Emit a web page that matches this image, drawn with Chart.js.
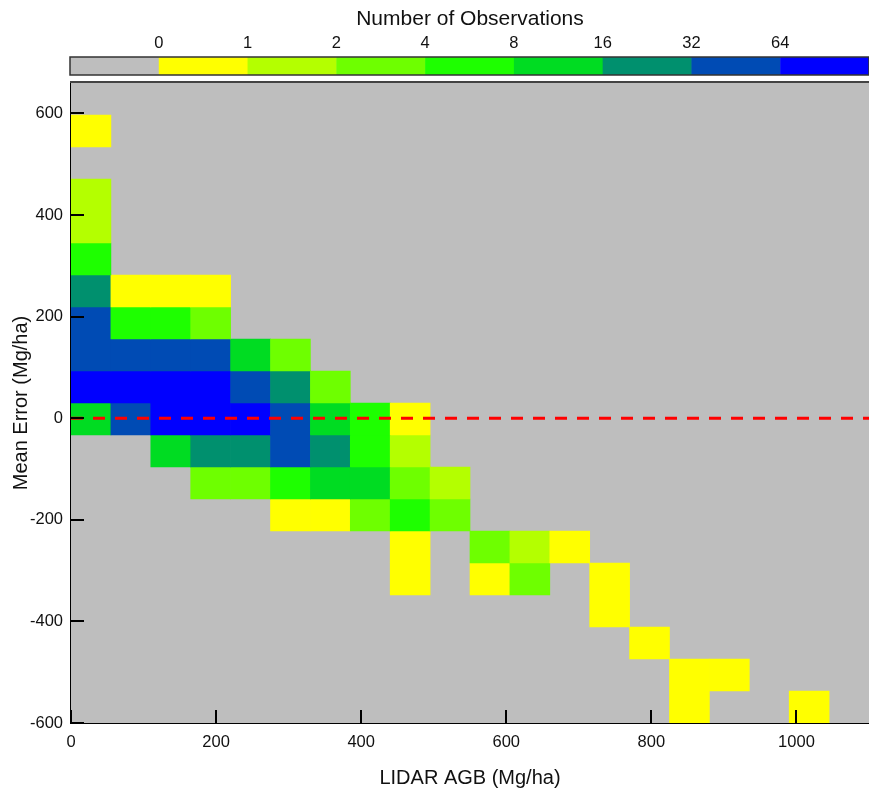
<!DOCTYPE html>
<html>
<head>
<meta charset="utf-8">
<script src="https://cdn.jsdelivr.net/npm/chart.js@4/dist/chart.umd.min.js"></script>
<style>
  body { margin: 0; background: #fff; }
  #wrap { width: 869px; height: 792px; position: relative; }
</style>
</head>
<body>
<div id="wrap"><canvas id="heat"></canvas></div>
<script>
// bins: LIDAR AGB on x, mean error on y
var xBinStart = 0, xBinWidth = 55;
var yBinStart = -600, yBinHeight = 63;

var xTickValues = [0, 200, 400, 600, 800, 1000];
var yTickValues = [-600, -400, -200, 0, 200, 400, 600];

// colour scale breaks (number of observations) and the class colours
var legendBreaks = [0, 1, 2, 4, 8, 16, 32, 64];
var classColors = ['#bebebe', '#ffff00', '#b4ff00', '#6eff00', '#1eff00', '#00dc22', '#00906e', '#004bb4', '#0000ff'];

// counts per cell, top row (597..660) first, columns 0..1100 in steps of 55
var counts = [
  [0,0,0,0,0,0,0,0,0,0,0,0,0,0,0,0,0,0,0,0],
  [1,0,0,0,0,0,0,0,0,0,0,0,0,0,0,0,0,0,0,0],
  [0,0,0,0,0,0,0,0,0,0,0,0,0,0,0,0,0,0,0,0],
  [2,0,0,0,0,0,0,0,0,0,0,0,0,0,0,0,0,0,0,0],
  [2,0,0,0,0,0,0,0,0,0,0,0,0,0,0,0,0,0,0,0],
  [6,0,0,0,0,0,0,0,0,0,0,0,0,0,0,0,0,0,0,0],
  [21,1,1,1,0,0,0,0,0,0,0,0,0,0,0,0,0,0,0,0],
  [47,6,5,3,0,0,0,0,0,0,0,0,0,0,0,0,0,0,0,0],
  [58,61,52,40,11,4,0,0,0,0,0,0,0,0,0,0,0,0,0,0],
  [83,112,97,74,35,19,3,0,0,0,0,0,0,0,0,0,0,0,0,0],
  [14,38,89,121,70,44,10,6,1,0,0,0,0,0,0,0,0,0,0,0],
  [0,0,13,27,22,36,18,7,2,0,0,0,0,0,0,0,0,0,0,0],
  [0,0,0,4,3,8,15,12,4,2,0,0,0,0,0,0,0,0,0,0],
  [0,0,0,0,0,1,1,4,6,3,0,0,0,0,0,0,0,0,0,0],
  [0,0,0,0,0,0,0,0,1,0,3,2,1,0,0,0,0,0,0,0],
  [0,0,0,0,0,0,0,0,1,0,1,3,0,1,0,0,0,0,0,0],
  [0,0,0,0,0,0,0,0,0,0,0,0,0,1,0,0,0,0,0,0],
  [0,0,0,0,0,0,0,0,0,0,0,0,0,0,1,0,0,0,0,0],
  [0,0,0,0,0,0,0,0,0,0,0,0,0,0,0,1,1,0,0,0],
  [0,0,0,0,0,0,0,0,0,0,0,0,0,0,0,1,0,0,1,0]
];

function colorFor(n) {
  var k = 0;
  legendBreaks.forEach(function (b) { if (n > b) k++; });
  return classColors[k];
}

Chart.defaults.font.family = "'Liberation Sans', Arial, sans-serif";
Chart.defaults.color = '#111';

var nRows = counts.length;
var cellSets = counts.map(function (row, r) {
  var lo = yBinStart + (nRows - 1 - r) * yBinHeight;
  var pts = [];
  row.forEach(function (n, c) {
    if (n > 0) pts.push({ x: xBinStart + (c + 0.5) * xBinWidth, y: [lo, lo + yBinHeight], n: n });
  });
  return {
    type: 'bar',
    data: pts,
    grouped: false,
    barPercentage: 1,
    categoryPercentage: 1,
    borderWidth: 0,
    backgroundColor: function (ctx) { return colorFor(ctx.raw ? ctx.raw.n : 0); },
    order: 1
  };
});

var zeroLine = {
  type: 'line',
  data: [{ x: 0, y: 0 }, { x: 1100, y: 0 }],
  borderColor: '#ff0000',
  borderWidth: 3,
  borderDash: [12, 10],
  pointRadius: 0,
  order: 0
};

var plotFrame = {
  id: 'plotFrame',
  beforeDatasetsDraw: function (chart) {
    var a = chart.chartArea, ctx = chart.ctx;
    ctx.save();
    ctx.fillStyle = classColors[0];
    ctx.fillRect(a.left, a.top, a.right - a.left, a.bottom - a.top);
    ctx.restore();
  },
  afterDatasetsDraw: function (chart) {
    var a = chart.chartArea, ctx = chart.ctx;
    var xs = chart.scales.x, ys = chart.scales.y;
    ctx.save();
    ctx.strokeStyle = '#000';
    ctx.lineWidth = 2;
    ctx.beginPath();
    yTickValues.forEach(function (v) {
      var p = Math.round(ys.getPixelForValue(v));
      ctx.moveTo(a.left, p);
      ctx.lineTo(a.left + 13, p);
    });
    xTickValues.forEach(function (v) {
      var p = Math.round(xs.getPixelForValue(v));
      ctx.moveTo(p, a.bottom);
      ctx.lineTo(p, a.bottom - 13);
    });
    ctx.stroke();
    // top edge of the plot box
    ctx.strokeStyle = '#444';
    ctx.beginPath();
    ctx.moveTo(a.left - 1, a.top - 1);
    ctx.lineTo(a.right, a.top - 1);
    ctx.stroke();
    ctx.restore();
  },
  afterDraw: function (chart) {
    var a = chart.chartArea, ctx = chart.ctx;
    var left = a.left - 1, right = a.right;
    var w = (right - left) / classColors.length;
    var top = 57, h = 18;
    ctx.save();
    classColors.forEach(function (c, i) {
      ctx.fillStyle = c;
      ctx.fillRect(left + i * w, top, w + 0.5, h);
    });
    ctx.strokeStyle = '#333';
    ctx.lineWidth = 1.5;
    ctx.strokeRect(left, top, right - left, h);

    ctx.fillStyle = '#111';
    ctx.textAlign = 'center';
    ctx.textBaseline = 'middle';
    ctx.font = "16.5px 'Liberation Sans', Arial, sans-serif";
    legendBreaks.forEach(function (b, i) {
      ctx.fillText(String(b), left + (i + 1) * w, 43);
    });
    ctx.font = "21px 'Liberation Sans', Arial, sans-serif";
    ctx.fillText('Number of Observations', (a.left + a.right) / 2, 19);
    ctx.restore();
  }
};

function plainLabel(v) { return String(v); }

new Chart(document.getElementById('heat'), {
  type: 'bar',
  data: { datasets: cellSets.concat([zeroLine]) },
  plugins: [plotFrame],
  options: {
    responsive: true,
    maintainAspectRatio: false,
    animation: false,
    layout: { padding: { top: 83, left: 0, right: 0, bottom: 0 } },
    plugins: {
      legend: { display: false },
      tooltip: { enabled: false }
    },
    scales: {
      x: {
        type: 'linear',
        min: 0,
        max: 1100,
        offset: false,
        grid: { display: true, offset: false, drawOnChartArea: false, drawTicks: false },
        border: { display: true, color: '#000', width: 2 },
        ticks: { autoSkip: false, maxRotation: 0, padding: 10, font: { size: 16.5 }, color: '#111', callback: plainLabel },
        afterBuildTicks: function (s) { s.ticks = xTickValues.map(function (v) { return { value: v }; }); },
        afterFit: function (s) { s.height = 69; },
        title: { display: true, text: 'LIDAR AGB (Mg/ha)', font: { size: 20 }, color: '#111', padding: { top: 0, bottom: 2 } }
      },
      y: {
        type: 'linear',
        min: yBinStart,
        max: yBinStart + nRows * yBinHeight,
        grid: { display: true, drawOnChartArea: false, drawTicks: false },
        border: { display: true, color: '#000', width: 2 },
        ticks: { autoSkip: false, padding: 8, font: { size: 16.5 }, color: '#111', callback: plainLabel },
        afterBuildTicks: function (s) { s.ticks = yTickValues.map(function (v) { return { value: v }; }); },
        afterFit: function (s) { s.width = 71; },
        title: { display: true, text: 'Mean Error (Mg/ha)', font: { size: 20 }, color: '#111', padding: { top: 9, bottom: 0 } }
      }
    }
  }
});
</script>
</body>
</html>
